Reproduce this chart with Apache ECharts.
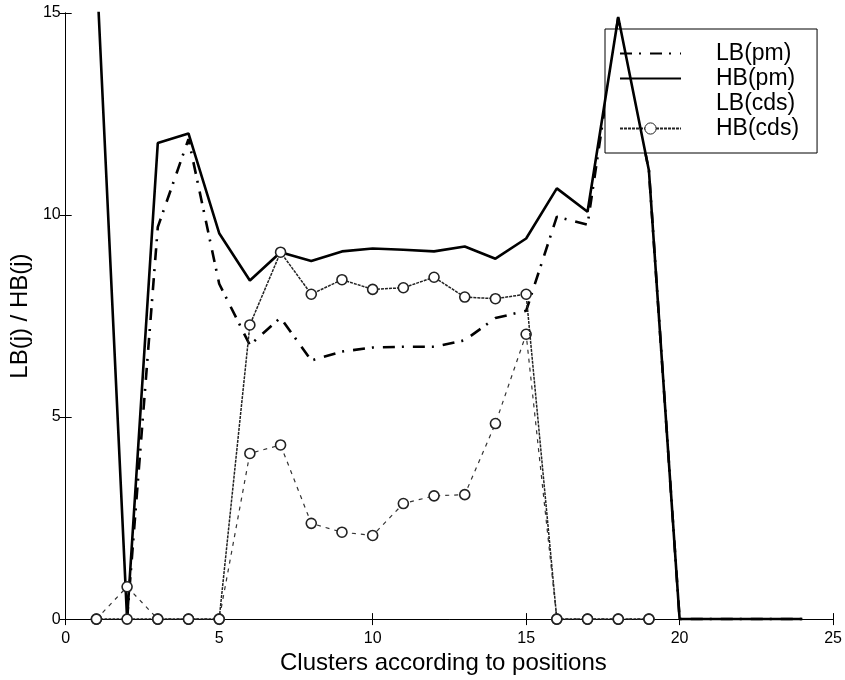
<!DOCTYPE html>
<html>
<head>
<meta charset="utf-8">
<title>LB(j) / HB(j)</title>
<script src="https://cdn.jsdelivr.net/npm/echarts@6/dist/echarts.min.js"></script>
<style>
  html, body { margin: 0; padding: 0; background: #fff; }
  #chart { width: 845px; height: 680px; }
</style>
</head>
<body>
<div id="chart"></div>
<script>
// Cluster index (x positions)
const clusters = [1, 2, 3, 4, 5, 6, 7, 8, 9, 10, 11, 12, 13, 14, 15, 16, 17, 18, 19, 20, 21, 22, 23, 24];

// Bounds per cluster
const lbPm  = [null, 0, 9.7, 11.88, 8.3, 6.78, 7.46, 6.4, 6.62, 6.72, 6.74, 6.74, 6.9, 7.45, 7.63, 9.96, 9.76, 14.9, 11.1, 0, 0, 0, 0, 0];
const hbPm  = [16.2, 0, 11.78, 12.02, 9.55, 8.38, 9.08, 8.86, 9.1, 9.17, 9.14, 9.1, 9.22, 8.92, 9.42, 10.66, 10.08, 14.9, 11.1, 0, 0, 0, 0, 0];
const lbCds = [0, 0.8, 0, 0, 0, 4.1, 4.31, 2.37, 2.15, 2.07, 2.86, 3.05, 3.08, 4.84, 7.05, 0, 0, 0, 0, null, null, null, null, null];
const hbCds = [0, 0, 0, 0, 0, 7.28, 9.08, 8.04, 8.4, 8.16, 8.2, 8.46, 7.97, 7.93, 8.04, 0, 0, 0, 0, null, null, null, null, null];

const seriesNames = ['LB(pm)', 'HB(pm)', 'LB(cds)', 'HB(cds)'];

const FONT = 'Liberation Sans, Arial, Helvetica, sans-serif';

function pairs(values) {
  return clusters.map((c, i) => [c, values[i]]);
}

const tickAxis = {
  min: 0,
  axisLine: { show: true, lineStyle: { color: '#000', width: 1 } },
  axisTick: { show: true, inside: true, length: 6, lineStyle: { color: '#000', width: 1 } },
  splitLine: { show: false }
};

const option = {
  animation: false,
  backgroundColor: '#fff',
  grid: { left: 64, right: 10, top: 13, bottom: 57, containLabel: false },
  xAxis: [
    Object.assign({}, tickAxis, {
      type: 'value', max: 25, interval: 5, position: 'bottom',
      axisLabel: { show: true, color: '#000', fontSize: 16, fontFamily: FONT, margin: 11 },
      name: 'Clusters according to positions',
      nameLocation: 'middle', nameGap: 28,
      nameTextStyle: { color: '#000', fontSize: 24, fontFamily: FONT, padding: [0, 12, 0, 0] }
    }),
    Object.assign({}, tickAxis, {
      type: 'value', max: 25, interval: 5, position: 'top',
      axisLabel: { show: false }
    })
  ],
  yAxis: [
    Object.assign({}, tickAxis, {
      type: 'value', max: 15, interval: 5, position: 'left',
      axisLabel: { show: true, color: '#000', fontSize: 16, fontFamily: FONT, margin: 5 },
      name: 'LB(j) / HB(j)',
      nameLocation: 'middle', nameGap: 22,
      nameTextStyle: { color: '#000', fontSize: 24, fontFamily: FONT }
    }),
    Object.assign({}, tickAxis, {
      type: 'value', max: 15, interval: 5, position: 'right',
      axisLabel: { show: false }
    })
  ],
  legend: {
    orient: 'vertical',
    left: 605, top: 29,
    padding: [13, 18, 13, 14],
    itemWidth: 61, itemHeight: 14, itemGap: 2,
    backgroundColor: '#fff',
    borderColor: '#000', borderWidth: 1, borderRadius: 0,
    inactiveColor: '#000',
    selectedMode: false,
    textStyle: { color: '#000', fontSize: 23, lineHeight: 23, fontFamily: FONT, padding: [0, 0, 0, 30] },
    data: [
      { name: seriesNames[0], itemStyle: { opacity: 0 } },
      { name: seriesNames[1], itemStyle: { opacity: 0 } },
      { name: seriesNames[2], icon: 'none', itemStyle: { opacity: 0 }, lineStyle: { color: '#ccc', opacity: 0.4 } },
      { name: seriesNames[3], itemStyle: { borderWidth: 1 } }
    ]
  },
  series: [
    {
      name: seriesNames[0], type: 'line', data: pairs(lbPm),
      xAxisIndex: 0, yAxisIndex: 0,
      symbol: 'none', connectNulls: false,
      lineStyle: { color: '#000', width: 2.6, type: [12, 7, 2, 9] },
      itemStyle: { color: '#000' }, z: 3
    },
    {
      name: seriesNames[1], type: 'line', data: pairs(hbPm),
      xAxisIndex: 0, yAxisIndex: 0,
      symbol: 'none',
      lineStyle: { color: '#000', width: 2.6 },
      itemStyle: { color: '#000' }, z: 4
    },
    {
      name: seriesNames[2], type: 'line', data: pairs(lbCds),
      xAxisIndex: 0, yAxisIndex: 0,
      symbol: 'circle', symbolSize: 10,
      lineStyle: { color: '#333', width: 1.2, type: [4, 5] },
      itemStyle: { color: '#fff', borderColor: '#222', borderWidth: 1.6 }, z: 5
    },
    {
      name: seriesNames[3], type: 'line', data: pairs(hbCds),
      xAxisIndex: 0, yAxisIndex: 0,
      symbol: 'circle', symbolSize: 10,
      lineStyle: { color: '#222', width: 1.5, type: [3, 1] },
      itemStyle: { color: '#fff', borderColor: '#222', borderWidth: 1.6 }, z: 6
    }
  ]
};

const chart = echarts.init(document.getElementById('chart'), null, { renderer: 'canvas' });
chart.setOption(option);
</script>
</body>
</html>
